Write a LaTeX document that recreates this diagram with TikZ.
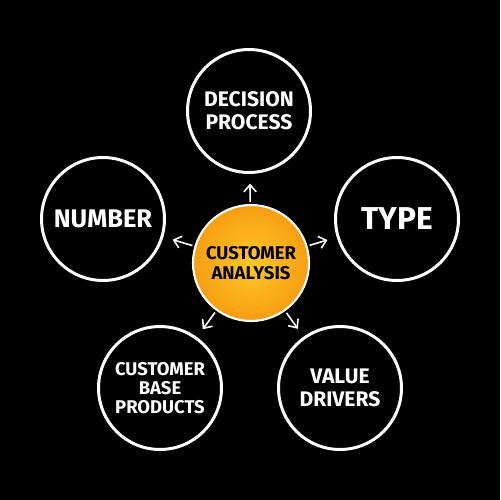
\documentclass[tikz,border=0pt]{standalone}
\usepackage{fontspec}
\setmainfont{Fira Sans}
\usetikzlibrary{arrows.meta}
\definecolor{hubin}{RGB}{255,200,40}
\definecolor{hubout}{RGB}{246,158,18}
\newcommand{\fsz}[2]{\bfseries\fontsize{#1}{#2}\selectfont}
\begin{document}
\begin{tikzpicture}[x=0.02cm,y=-0.02cm,
	bubble/.style={circle,draw=white,line width=1.7pt,minimum size=2.46cm,inner sep=0pt,text=white,align=center},
	hub/.style={circle,draw=white,line width=1.2pt,minimum size=2.32cm,inner sep=0pt,shading=radial,inner color=hubin,outer color=hubout,align=center},
	link/.style={-{Straight Barb[length=4pt,width=7pt]},white,line width=0.9pt,shorten <=1.2pt,shorten >=5.5pt}]
\fill[black] (0,0) rectangle (500,500);
\node[hub,font=\fsz{10.5}{11.4}] (hub) at (251,263) {CUSTOMER\\ANALYSIS};
\node[bubble,font=\fsz{12}{13}] (decision) at (249,111) {DECISION\\PROCESS};
\node[bubble,font=\fsz{14.5}{15}] (number) at (103,219) {NUMBER};
\node[bubble,font=\fsz{18}{19}] (type) at (397,219) {TYPE};
\node[bubble,font=\fsz{10.5}{10.6}] (base) at (160,388) {CUSTOMER\\BASE\\PRODUCTS};
\node[bubble,font=\fsz{12}{13}] (value) at (340,388) {VALUE\\DRIVERS};
\draw[link] (hub) -- (decision);
\draw[link] (hub) -- (number);
\draw[link] (hub) -- (type);
\draw[link] (hub) -- (base);
\draw[link] (hub) -- (value);
\end{tikzpicture}
\end{document}
